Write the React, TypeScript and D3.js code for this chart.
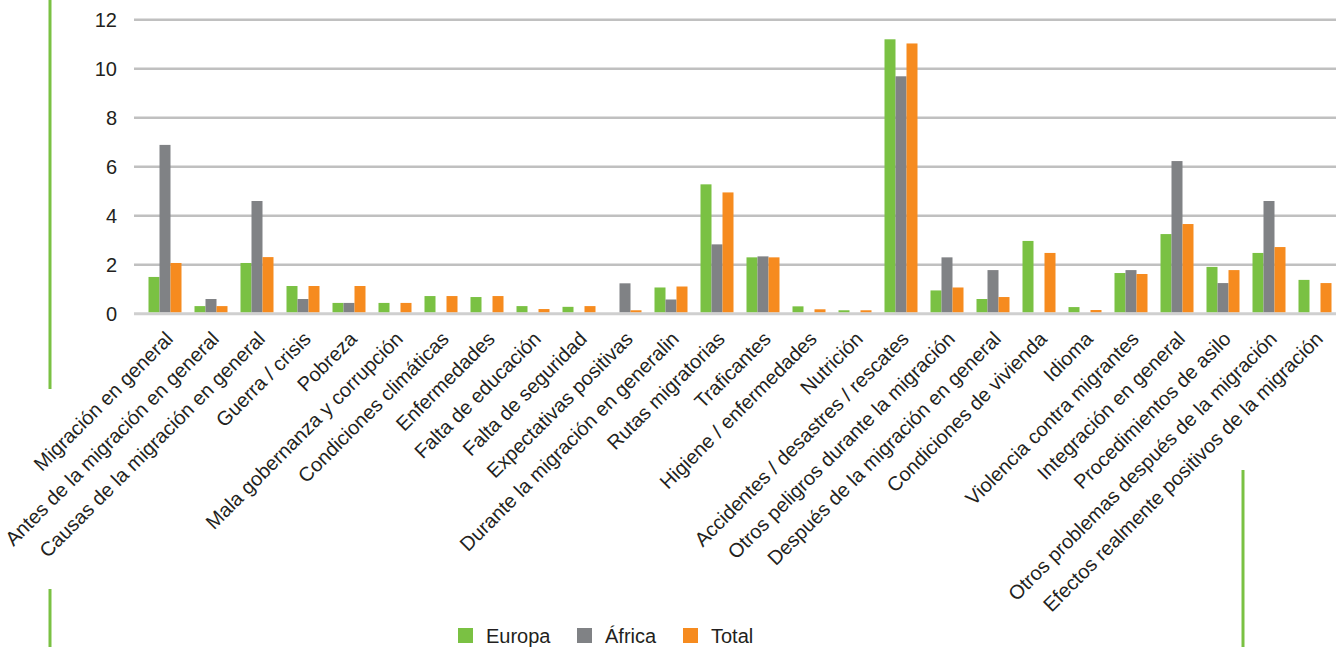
import React from "react";
import * as d3 from "d3";

const categories = [
  "Migración en general",
  "Antes de la migración en general",
  "Causas de la migración en general",
  "Guerra / crisis",
  "Pobreza",
  "Mala gobernanza y corrupción",
  "Condiciones climáticas",
  "Enfermedades",
  "Falta de educación",
  "Falta de seguridad",
  "Expectativas positivas",
  "Durante la migración en generalin",
  "Rutas migratorias",
  "Traficantes",
  "Higiene / enfermedades",
  "Nutrición",
  "Accidentes / desastres / rescates",
  "Otros peligros durante la migración",
  "Después de la migración en general",
  "Condiciones de vivienda",
  "Idioma",
  "Violencia contra migrantes",
  "Integración en general",
  "Procedimientos de asilo",
  "Otros problemas después de la migración",
  "Efectos realmente positivos de la migración",
];

const europa = [1.5, 0.31, 2.07, 1.13, 0.44, 0.44, 0.72, 0.68, 0.31, 0.28, 0, 1.07, 5.28, 2.3, 0.3, 0.14, 11.2, 0.95, 0.6, 2.97, 0.27, 1.66, 3.25, 1.91, 2.48, 1.38];
const africa = [6.89, 0.6, 4.6, 0.6, 0.44, 0, 0, 0, 0, 0, 1.24, 0.58, 2.83, 2.34, 0, 0, 9.69, 2.3, 1.78, 0, 0, 1.78, 6.23, 1.25, 4.6, 0];
const total = [2.07, 0.31, 2.31, 1.13, 1.13, 0.44, 0.72, 0.72, 0.19, 0.31, 0.14, 1.11, 4.95, 2.3, 0.18, 0.14, 11.03, 1.07, 0.68, 2.48, 0.15, 1.62, 3.66, 1.78, 2.72, 1.25];

const seriesNames = ["Europa", "África", "Total"];
const seriesValues = [europa, africa, total];
const seriesColors = ["#7ac143", "#808285", "#f68b1f"];
const yTicks = [0, 2, 4, 6, 8, 10, 12];

const W = 1336;
const H = 647;
const FONT = "'Liberation Sans', Arial, sans-serif";
const TEXT = "#231f20";

export default function App() {
  const x = d3.scaleBand<string>().domain(categories).range([142, 1338]).padding(0);
  const y = d3.scaleLinear().domain([0, 12]).range([313.7, 19.7]);
  const inner = d3.scaleBand<string>().domain(seriesNames).range([0, 33]).padding(0);
  const groupOffset = (x.bandwidth() - 33) / 2;

  return (
    <svg width={W} height={H} style={{ position: "absolute", left: 0, top: 0, background: "#fff" }} fontFamily={FONT}>
      {/* decorative green lines */}
      <line x1={50} x2={50} y1={0} y2={389} stroke="#7ac143" strokeWidth={3} />
      <line x1={50} x2={50} y1={589} y2={H} stroke="#7ac143" strokeWidth={3} />
      <line x1={1243} x2={1243} y1={470} y2={H} stroke="#7ac143" strokeWidth={3} />

      {/* gridlines */}
      {yTicks.map((t) => (
        <g key={t}>
          <line x1={134} x2={1336} y1={y(t)} y2={y(t)} stroke={t === 0 ? "#cfcfcf" : "#c0c0c0"} strokeWidth={t === 0 ? 3 : 2.5} />
          <text x={117} y={y(t)} dy="0.36em" textAnchor="end" fontSize={20} fill={TEXT}>
            {t}
          </text>
        </g>
      ))}

      {/* bars */}
      {categories.map((c, i) => (
        <g key={c}>
          {seriesNames.map((s, k) => {
            const v = seriesValues[k][i];
            if (!v) return null;
            return (
              <rect
                key={s}
                x={(x(c) as number) + groupOffset + (inner(s) as number)}
                y={y(v)}
                width={inner.bandwidth()}
                height={y(0) - y(v) - 1.5}
                fill={seriesColors[k]}
              />
            );
          })}
        </g>
      ))}

      {/* category labels */}
      {categories.map((c) => {
        const cx = (x(c) as number) + x.bandwidth() / 2;
        return (
          <text
            key={c}
            transform={`translate(${cx - 1},${330}) rotate(-45)`}
            textAnchor="end"
            dy="0.72em"
            fontSize={20}
            fill={TEXT}
          >
            {c}
          </text>
        );
      })}

      {/* legend */}
      {seriesNames.map((s, k) => {
        const lx = [458, 577, 683][k];
        return (
          <g key={s}>
            <rect x={lx} y={628} width={15} height={15} fill={seriesColors[k]} />
            <text x={lx + 28} y={643} fontSize={20} fill={TEXT}>
              {s}
            </text>
          </g>
        );
      })}
    </svg>
  );
}
